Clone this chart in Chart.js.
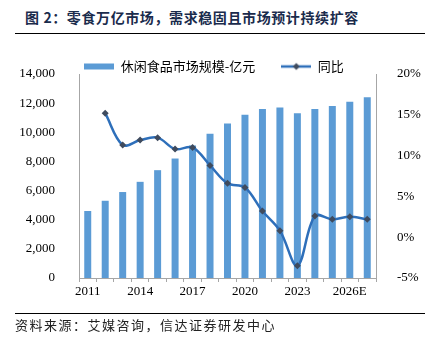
<!DOCTYPE html>
<html>
<head>
<meta charset="utf-8">
<script src="https://cdn.jsdelivr.net/npm/chart.js@4.4.1/dist/chart.umd.min.js"></script>
<style>
  html, body { margin: 0; padding: 0; background: #fff; }
  body { width: 428px; height: 351px; position: relative; overflow: hidden; }
  #title {
    position: absolute; left: 15px; top: 6px; width: 410px; height: 28px;
    border-bottom: 1.5px solid #000; box-sizing: border-box;
    font: bold 14px "Noto Sans CJK SC", sans-serif; color: #1a2b4c;
    padding-left: 10px; line-height: 22px; letter-spacing: 0.6px;
    white-space: pre;
  }
  #source {
    position: absolute; left: 15px; top: 313px; width: 410px;
    border-top: 1.5px solid #000; box-sizing: border-box;
    font: 13px "Noto Sans CJK SC", sans-serif; color: #222;
    padding-top: 2px; line-height: 18px; letter-spacing: 1.5px;
  }
  #myChart { position: absolute; left: 0; top: 0; }
</style>
</head>
<body>
<div id="title">图 2：零食万亿市场，需求稳固且市场预计持续扩容</div>
<canvas id="myChart" width="428" height="351"></canvas>
<div id="source">资料来源：艾媒咨询，信达证券研发中心</div>
<script>
const years = ['2011', '2012', '2013', '2014', '2015', '2016', '2017', '2018', '2019',
  '2020', '2021', '2022', '2023', '2024E', '2025E', '2026E', '2027E'];
const marketSize = [4600, 5300, 5900, 6600, 7400, 8200, 9100, 9900, 10600,
  11200, 11600, 11700, 11300, 11600, 11800, 12100, 12400];
const yoy = [null, 15.2, 11.3, 11.9, 12.2, 10.8, 11.0, 8.8, 6.6,
  6.1, 3.2, 0.8, -3.5, 2.6, 2.2, 2.5, 2.2];
const shownLabels = ['2011', '2014', '2017', '2020', '2023', '2026E'];

const barColor = '#5b9bd5';
const lineColor = '#2e6fba';
const markerColor = '#3f4b5e';
const axisColor = '#a6a6a6';

function makeIcon(kind) {
  const c = document.createElement('canvas');
  c.width = 30;
  c.height = 10;
  const g = c.getContext('2d');
  if (kind === 'bar') {
    g.fillStyle = barColor;
    g.fillRect(0, 2, 30, 6);
  } else {
    g.strokeStyle = lineColor;
    g.lineWidth = 2.5;
    g.beginPath();
    g.moveTo(0, 5);
    g.lineTo(30, 5);
    g.stroke();
    g.fillStyle = markerColor;
    g.beginPath();
    g.moveTo(15, 1.5);
    g.lineTo(18.5, 5);
    g.lineTo(15, 8.5);
    g.lineTo(11.5, 5);
    g.closePath();
    g.fill();
  }
  return c;
}

// legend keeps its wide item gap but we pin its box height
const legendHeight = {
  id: 'legendHeight',
  beforeLayout(chart) {
    const lg = chart.legend;
    if (!lg || lg._pinned) return;
    const orig = lg.fit;
    lg.fit = function () {
      orig.call(this);
      this.height = 40;
    };
    lg._pinned = true;
  }
};

const serif = 'Liberation Serif';

const data = {
  labels: years,
  datasets: [
    {
      type: 'bar',
      label: '休闲食品市场规模-亿元',
      data: marketSize,
      backgroundColor: barColor,
      categoryPercentage: 1,
      barPercentage: 0.4,
      yAxisID: 'y',
      order: 2,
    },
    {
      type: 'line',
      label: '同比',
      data: yoy,
      borderColor: lineColor,
      borderWidth: 2.5,
      tension: 0.35,
      pointStyle: 'rectRot',
      pointRadius: 3.5,
      pointBackgroundColor: markerColor,
      pointBorderColor: markerColor,
      pointBorderWidth: 0,
      yAxisID: 'y1',
      order: 1,
    }
  ]
};

const config = {
  data: data,
  options: {
    responsive: false,
    animation: false,
    devicePixelRatio: 1,
    layout: { padding: { top: 34, bottom: 43, left: 0, right: 0 } },
    plugins: {
      tooltip: { enabled: false },
      legend: {
        position: 'top',
        labels: {
          usePointStyle: true,
          pointStyleWidth: 30,
          padding: 26,
          color: '#000',
          font: { family: 'Noto Sans CJK SC', size: 13 },
          sort: (a, b) => a.datasetIndex - b.datasetIndex,
          generateLabels: (chart) => chart.data.datasets.map((ds, i) => ({
            text: ds.label,
            pointStyle: i === 0 ? makeIcon('bar') : makeIcon('line'),
            fillStyle: 'transparent',
            strokeStyle: 'transparent',
            lineWidth: 0,
            datasetIndex: i,
            fontColor: '#000',
          })),
        }
      }
    },
    scales: {
      x: {
        grid: {
          display: true,
          drawOnChartArea: false,
          drawTicks: true,
          tickLength: 4,
          color: axisColor,
        },
        border: { display: true, color: axisColor },
        ticks: {
          autoSkip: false,
          maxRotation: 0,
          padding: 2,
          color: '#000',
          font: { family: serif, size: 13 },
          callback: function (value, index) {
            const lab = years[index];
            return shownLabels.includes(lab) ? lab : '';
          }
        },
        afterFit: (s) => { s.height = 30; }
      },
      y: {
        position: 'left',
        min: 0,
        max: 14000,
        grid: { display: false },
        border: { display: true, color: axisColor },
        ticks: {
          stepSize: 2000,
          padding: 16,
          color: '#000',
          font: { family: serif, size: 13 },
          callback: (v) => v.toLocaleString('en-US')
        },
        afterFit: (s) => { s.width = 79; }
      },
      y1: {
        position: 'right',
        min: -5,
        max: 20,
        grid: { display: false },
        border: { display: true, color: axisColor },
        ticks: {
          stepSize: 5,
          padding: 13,
          color: '#000',
          font: { family: serif, size: 13 },
          callback: (v) => v + '%'
        },
        afterFit: (s) => { s.width = 52; }
      }
    }
  },
  plugins: [legendHeight]
};

const ctx = document.getElementById('myChart').getContext('2d');
const myChart = new Chart(ctx, config);
</script>
</body>
</html>
